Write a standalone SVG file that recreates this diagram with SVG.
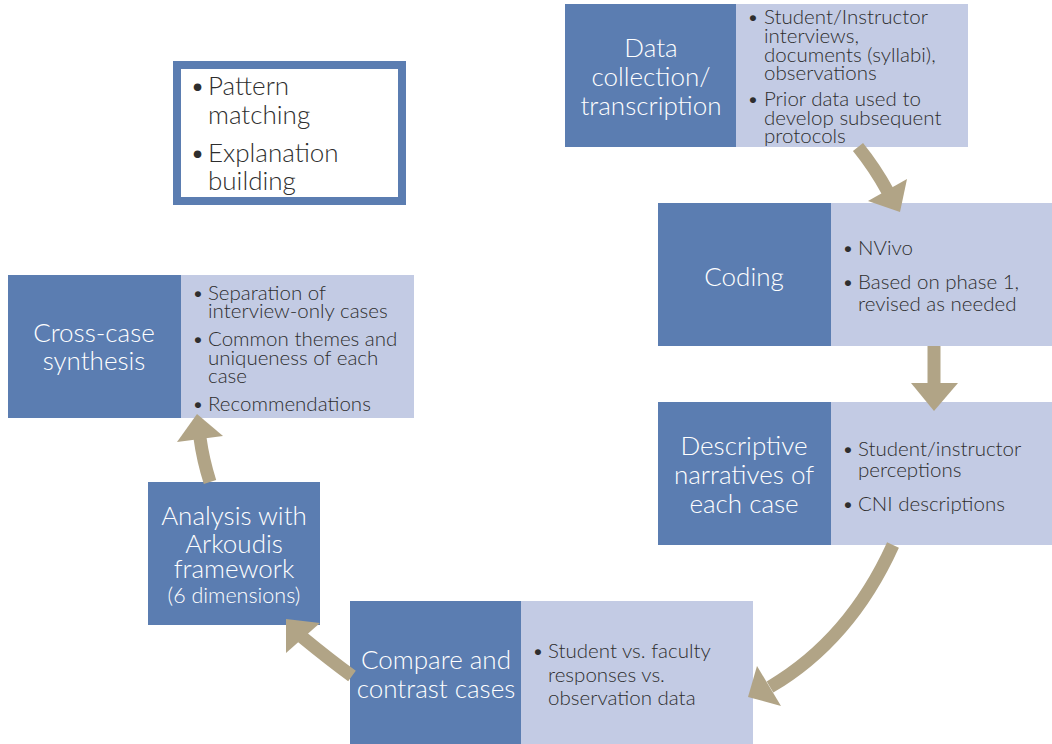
<svg xmlns="http://www.w3.org/2000/svg" width="1052" height="744" viewBox="0 0 1052 744">
<style>
.d{fill:#5B7DB1}
.l{fill:#C3CBE4}
.t{font-family:Lato,"Open Sans",sans-serif;font-weight:300;fill:#ffffff;font-size:26px;text-anchor:middle}
.b{font-family:Lato,"Open Sans",sans-serif;font-weight:300;fill:#2e2e2e;font-size:20px}
.s{font-size:20.5px}
.sh{fill:none;stroke:#B1A486;stroke-width:13}
.hd{fill:#B1A486}
</style>
<rect width="1052" height="744" fill="#ffffff"/>
<g id="pattern">
<rect x="177" y="65" width="225" height="136" fill="#ffffff" stroke="#5B7DB1" stroke-width="8"/>
<text class="b" style="font-size:26px"><tspan x="190" y="95">•</tspan><tspan x="208" y="95">Pattern</tspan><tspan x="208" y="124">matching</tspan><tspan x="190" y="162">•</tspan><tspan x="208" y="162">Explanation</tspan><tspan x="208" y="190">building</tspan></text>
</g>
<g id="data-collection">
<rect class="d" x="565" y="4" width="171" height="143"/>
<rect class="l" x="736" y="4" width="232" height="143"/>
<text class="t"><tspan x="651" y="57">Data</tspan><tspan x="651" y="86">collection/</tspan><tspan x="651" y="115">transcription</tspan></text>
<text class="b s"><tspan x="747" y="24">•</tspan><tspan x="764" y="24">Student/Instructor</tspan><tspan x="764" y="43">interviews,</tspan><tspan x="764" y="62">documents (syllabi),</tspan><tspan x="764" y="80">observations</tspan><tspan x="747" y="106">•</tspan><tspan x="764" y="106">Prior data used to</tspan><tspan x="764" y="125">develop subsequent</tspan><tspan x="764" y="143">protocols</tspan></text>
</g>
<g id="coding">
<rect class="d" x="658" y="203" width="173" height="143"/>
<rect class="l" x="831" y="203" width="221" height="143"/>
<text class="t"><tspan x="744" y="286">Coding</tspan></text>
<text class="b s"><tspan x="842" y="255">•</tspan><tspan x="858" y="255">NVivo</tspan><tspan x="842" y="289">•</tspan><tspan x="858" y="289">Based on phase 1,</tspan><tspan x="858" y="311">revised as needed</tspan></text>
</g>
<g id="descriptive">
<rect class="d" x="658" y="402" width="173" height="143"/>
<rect class="l" x="831" y="402" width="221" height="143"/>
<text class="t"><tspan x="744" y="455">Descriptive</tspan><tspan x="744" y="484">narratives of</tspan><tspan x="744" y="513">each case</tspan></text>
<text class="b s"><tspan x="842" y="456">•</tspan><tspan x="858" y="456">Student/instructor</tspan><tspan x="858" y="477">perceptions</tspan><tspan x="842" y="511">•</tspan><tspan x="858" y="511">CNI descriptions</tspan></text>
</g>
<g id="compare">
<rect class="d" x="350" y="601" width="171" height="143"/>
<rect class="l" x="521" y="601" width="232" height="143"/>
<text class="t"><tspan x="436" y="669">Compare and</tspan><tspan x="436" y="698">contrast cases</tspan></text>
<text class="b s"><tspan x="532" y="658">•</tspan><tspan x="548" y="658">Student vs. faculty</tspan><tspan x="548" y="682">responses vs.</tspan><tspan x="548" y="705">observation data</tspan></text>
</g>
<g id="analysis">
<rect class="d" x="148" y="482" width="172" height="143"/>
<text class="t"><tspan x="234" y="525">Analysis with</tspan><tspan x="234" y="553">Arkoudis</tspan><tspan x="234" y="578">framework</tspan><tspan x="234" y="603" style="font-size:21.5px">(6 dimensions)</tspan></text>
</g>
<g id="cross-case">
<rect class="d" x="8" y="275" width="173" height="143"/>
<rect class="l" x="181" y="275" width="233" height="143"/>
<text class="t"><tspan x="94" y="342">Cross-case</tspan><tspan x="94" y="370">synthesis</tspan></text>
<text class="b s"><tspan x="192" y="300">•</tspan><tspan x="208" y="300">Separation of</tspan><tspan x="208" y="318">interview-only cases</tspan><tspan x="192" y="346">•</tspan><tspan x="208" y="346">Common themes and</tspan><tspan x="208" y="365">uniqueness of each</tspan><tspan x="208" y="383">case</tspan><tspan x="192" y="411">•</tspan><tspan x="208" y="411">Recommendations</tspan></text>
</g>
<g id="connectors">
<path class="sh" d="M 858 147 Q 875 168 888 192"/>
<polygon class="hd" points="868,201 907,179 900,212"/>
<path class="sh" d="M 934 346 L 934 385"/>
<polygon class="hd" points="911,383 958,383 934,411"/>
<path class="sh" d="M 893 545 Q 850 640 770 687"/>
<polygon class="hd" points="757,666 781,706 748,697"/>
<path class="sh" d="M 352 676 Q 330 660 302 637"/>
<polygon class="hd" points="286,619 320,623 286,653"/>
<path class="sh" d="M 210 482 Q 203 460 200 438"/>
<polygon class="hd" points="177,442 223,436 197,414"/>
</g>
</svg>
